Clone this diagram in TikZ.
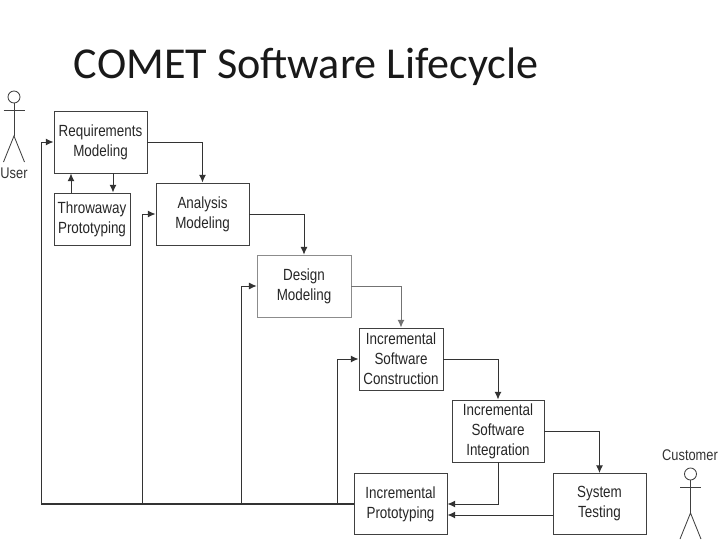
\documentclass[tikz,border=0pt]{standalone}
\usepackage{fontspec}
\setmainfont{Liberation Sans}
\newfontfamily\titlefont{Carlito}
\newfontfamily\boxfont[FakeStretch=0.83]{Liberation Sans}
\usetikzlibrary{arrows.meta,calc}

\begin{document}
\begin{tikzpicture}[
  x=0.25mm, y=-0.25mm,
  >={Latex[length=5.5pt,width=5pt]},
  box/.style={draw=black!75, line width=0.7pt, inner sep=0pt, align=center,
              text=black!85, font=\boxfont\fontsize{11.5}{14.2}\selectfont},
  flow/.style={draw=black!80, line width=0.7pt},
  actor/.style={draw=black!75, line width=0.6pt},
  actorname/.style={text=black!80, font=\boxfont\fontsize{11}{13}\selectfont},
]
  \useasboundingbox (0,0) rectangle (720,540);
  % ── Title ──
  \node[anchor=west, font=\titlefont\fontsize{31.4}{36}\selectfont, text=black!90] (title) at (69,67)
    {COMET Software Lifecycle};
  % ── Define all boxes first ──
  \node[box, minimum width=23.25mm, minimum height=15.5mm] (req) at (100.5,142) {Requirements\\Modeling};
  \node[box, minimum width=19mm, minimum height=13mm] (thr) at (92,219) {Throwaway\\Prototyping};
  \node[box, minimum width=23.25mm, minimum height=15.5mm] (anl) at (202.5,214) {Analysis\\Modeling};
  \node[box, draw=black!45, line width=0.5pt, minimum width=23.5mm, minimum height=15.5mm] (dsg) at (304,286) {Design\\Modeling};
  \node[box, minimum width=21mm, minimum height=15.5mm] (con) at (401,359) {Incremental\\Software\\Construction};
  \node[box, minimum width=23mm, minimum height=15.5mm] (int) at (498,431) {Incremental\\Software\\Integration};
  \node[box, minimum width=23.25mm, minimum height=15.25mm] (prt) at (400.5,504) {Incremental\\Prototyping};
  \node[box, minimum width=23.25mm, minimum height=15.25mm] (sys) at (599.5,504) {System\\Testing};
  % ── Forward flow down the steps ──
  \draw[flow, ->] (req.east) -| (anl.north);
  \draw[flow, ->] (anl.east) -| (dsg.north);
  \draw[flow, draw=black!55, ->] (dsg.east) -| (con.north);
  \draw[flow, ->] (con.east) -| (int.north);
  \draw[flow, ->] (int.east) -| (sys.north);
  \draw[flow, ->] (int.south) |- (prt.east);
  \draw[flow, ->] ([yshift=-2.75mm]sys.west) -- ([yshift=-2.75mm]prt.east);
  % ── Requirements <-> throwaway prototype ──
  \draw[flow, ->] ([xshift=-5.25mm]thr.north) -- ([xshift=-5.25mm]thr.north |- req.south);
  \draw[flow, ->] ([xshift=5.25mm]thr.north |- req.south) -- ([xshift=5.25mm]thr.north);
  % ── Feedback lines out of the prototyping box ──
  \coordinate (fb0) at (41,504);
  \coordinate (fb1) at (142,504);
  \coordinate (fb2) at (241,504);
  \coordinate (fb3) at (337,504);
  \draw[flow, line width=1pt] (prt.west) -- (fb0);
  \draw[flow, ->] (fb0) |- (req.west);
  \draw[flow, ->] (fb1) |- (anl.west);
  \draw[flow, ->] (fb2) |- (dsg.west);
  \draw[flow, ->] (fb3) |- (con.west);
  % ── Actors ──
  \node[actorname] (usr) at (14,173) {User};
  \node[actorname] (cus) at (690,455) {Customer};
  \foreach \n/\x/\y in {u/14/97, c/690.5/474} {
    \node[actor, draw, circle, minimum size=3mm, inner sep=0pt] (\n head) at (\x,\y) {};
    \coordinate (\n hip) at (\x,\y+39);
    \draw[actor] (\n head.south) -- (\n hip);
    \draw[actor] ($(\n head)+(-10.5,13)$) -- ($(\n head)+(10.5,13)$);
    \draw[actor] ($(\n hip)+(-10.5,26)$) -- (\n hip) -- ($(\n hip)+(10.5,26)$);
  }
\end{tikzpicture}
\end{document}
